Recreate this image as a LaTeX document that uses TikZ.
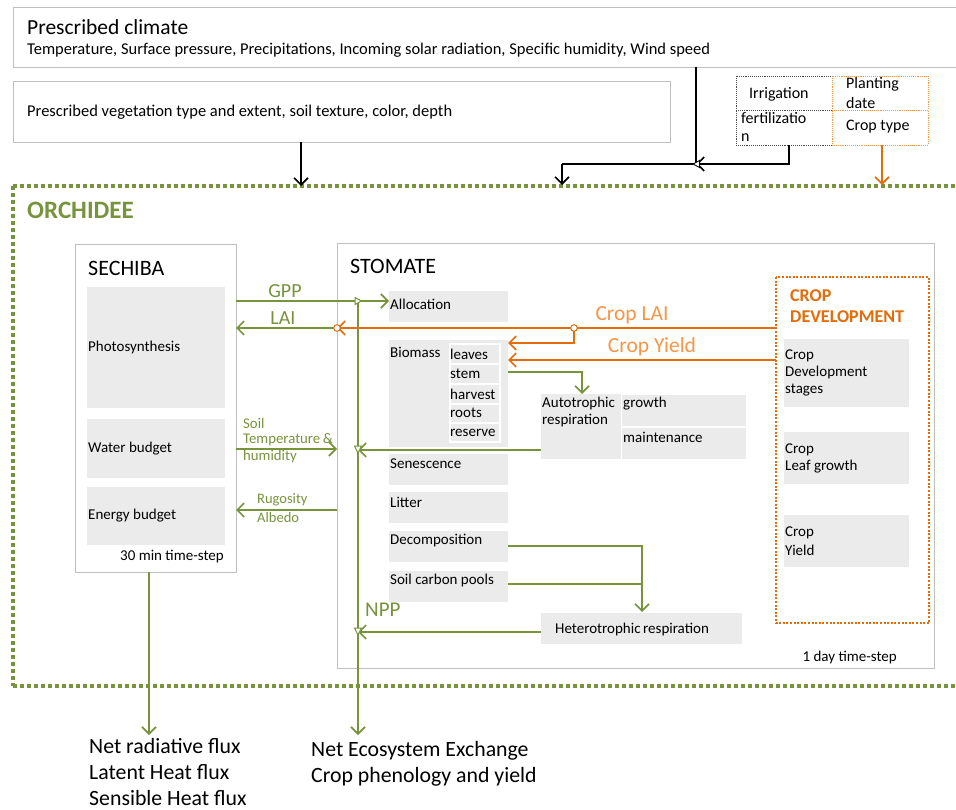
\documentclass[tikz,border=0pt]{standalone}
\usepackage{fontspec}
\setmainfont{Carlito}
\usetikzlibrary{arrows.meta}
\definecolor{ogreen}{HTML}{77933C}
\definecolor{oorange}{HTML}{E46C0A}
\definecolor{lorange}{HTML}{F79646}
\definecolor{boxgray}{HTML}{EBEBEB}
\definecolor{framegray}{HTML}{BFBFBF}
\newcommand{\fs}[1]{\fontsize{#1}{#1}\selectfont}
\begin{document}
\begin{tikzpicture}[x=1pt,y=-1pt,
  gbox/.style={fill=boxgray, draw=none, inner sep=0pt, outer sep=0pt, anchor=north west},
  frm/.style={draw=framegray, line width=0.9pt, fill=white, inner sep=0pt, outer sep=0pt, anchor=north west},
  txt/.style={anchor=west, inner sep=0pt, font=\fs{15}},
  gtxt/.style={txt, text=ogreen},
  tip/.style={-{Straight Barb[length=7pt,width=14pt,line width=1.6pt]}},
  garrow/.style={draw=ogreen, line width=1.8pt, tip},
  oarrow/.style={draw=oorange, line width=1.8pt, tip},
  gline/.style={draw=ogreen, line width=1.8pt},
  karrow/.style={draw=black, line width=1.6pt, tip},
  opentri/.style={draw=ogreen, line width=1pt, fill=white},
]
\useasboundingbox (0,0) rectangle (956,810);
\clip (0,0) rectangle (956,810);

% ---- top input boxes
\node[frm, minimum width=970, minimum height=60] (clim) at (13,7) {};
\node[txt, font=\fs{21.5}] (climt) at (27,27) {Prescribed climate};
\node[txt, font=\fs{16.5}] (climv) at (27,50) {Temperature, Surface pressure, Precipitations, Incoming solar radiation, Specific humidity, Wind speed};

\node[frm, minimum width=657, minimum height=61] (veg) at (13,81) {};
\node[txt, font=\fs{16.5}] (vegt) at (27,112) {Prescribed vegetation type and extent, soil texture, color, depth};

\node[frm, draw=black!70, densely dotted, line width=0.8pt, minimum width=96, minimum height=34] (irr) at (736,76) {};
\node[frm, draw=black!70, densely dotted, line width=0.8pt, minimum width=96, minimum height=35] (fert) at (736,110) {};
\node[frm, draw=lorange, densely dotted, line width=0.8pt, minimum width=96, minimum height=34] (plant) at (832,76) {};
\node[frm, draw=lorange, densely dotted, line width=0.8pt, minimum width=96, minimum height=35] (ctype) at (832,110) {};
\node[txt, font=\fs{16}] (irrt) at (749,94) {Irrigation};
\node[txt, font=\fs{16}] (fertt1) at (741,118) {fertilizatio};
\node[txt, font=\fs{16}] (fertt2) at (741,138) {n};
\node[txt, font=\fs{16}] (plantt1) at (846,84) {Planting};
\node[txt, font=\fs{16}] (plantt2) at (846,103) {date};
\node[txt, font=\fs{16}] (ctypet) at (846,127) {Crop type};

% ---- ORCHIDEE frame
\draw[ogreen, line width=4pt, dash pattern=on 4pt off 3pt] (13,186) -- (1000,186);
\draw[ogreen, line width=4pt, dash pattern=on 4pt off 3pt] (13,686) -- (1000,686);
\draw[ogreen, line width=4pt, dash pattern=on 4pt off 3pt] (13,186) -- (13,686);
\node[txt, text=ogreen, font=\fs{25}\bfseries] (orch) at (27,210) {ORCHIDEE};

% ---- input connectors
\coordinate (j1) at (696,164);
\coordinate (j2) at (562,164);
\coordinate (orchin) at (562,185);
\draw[black, line width=1.6pt] (clim.south -| j1) -- (j1) -- (j2);
\draw[karrow] (j2) -- (orchin);
\draw[karrow] (fert.south -| 789,0) |- (j1);
\draw[black, line width=0.9pt, fill=white] (699.5,160.5) -- (693,164) -- (699.5,167.5) -- cycle;
\draw[karrow] (veg.south -| 301,0) -- (301,186);
\draw[oarrow] (ctype.south -| 882,0) -- (882,185);

% ---- SECHIBA
\node[frm, minimum width=161, minimum height=328] (sech) at (75,244) {};
\node[txt, font=\fs{22}] (secht) at (88,268) {SECHIBA};
\node[gbox, minimum width=138, minimum height=121] (photo) at (87,287) {};
\node[gbox, minimum width=138, minimum height=59] (water) at (87,419) {};
\node[gbox, minimum width=138, minimum height=58] (energy) at (87,487) {};
\node[txt] (photot) at (88,348) {Photosynthesis};
\node[txt] (watert) at (88,449) {Water budget};
\node[txt] (energyt) at (88,516) {Energy budget};
\node[txt, anchor=east] (sechstep) at (224,557) {30 min time-step};

% ---- STOMATE
\node[frm, minimum width=597, minimum height=425] (stom) at (337,243) {};
\node[txt, font=\fs{22}] (stomt) at (350,266) {STOMATE};
\node[gbox, minimum width=119, minimum height=31] (alloc) at (389,291) {};
\node[gbox, minimum width=119, minimum height=107] (biom) at (389,340) {};
\node[draw=none, fill=white, inner sep=0pt, outer sep=0pt, anchor=north west, minimum width=52, minimum height=100] (biomin) at (449,343) {};
\node[gbox, minimum width=48, minimum height=18] (leaves) at (451,345) {};
\node[gbox, minimum width=48, minimum height=18] (stem) at (451,365) {};
\node[gbox, minimum width=48, minimum height=18] (harv) at (451,385) {};
\node[gbox, minimum width=48, minimum height=17] (roots) at (451,405) {};
\node[gbox, minimum width=48, minimum height=17] (reserve) at (451,424) {};
\node[gbox, minimum width=119, minimum height=31] (sen) at (389,454) {};
\node[gbox, minimum width=119, minimum height=31] (litter) at (389,492) {};
\node[gbox, minimum width=119, minimum height=31] (decomp) at (389,531) {};
\node[gbox, minimum width=119, minimum height=31] (soil) at (389,571) {};
\node[gbox, minimum width=80, minimum height=65] (auto) at (541,394) {};
\node[gbox, minimum width=124, minimum height=31] (growth) at (622,395) {};
\node[gbox, minimum width=124, minimum height=31] (maint) at (622,428) {};
\node[gbox, minimum width=201, minimum height=31] (hetero) at (541,613) {};

\node[txt] (allocT) at (390,304) {Allocation};
\node[txt] (biomT) at (390,352) {Biomass};
\node[txt] (leavesT) at (450,354) {leaves};
\node[txt] (stemT) at (450,374) {stem};
\node[txt] (harvT) at (450,394) {harvest};
\node[txt] (rootsT) at (450,413) {roots};
\node[txt] (reserveT) at (450,433) {reserve};
\node[txt] (senT) at (390,464) {Senescence};
\node[txt] (litterT) at (390,502) {Litter};
\node[txt] (decompT) at (390,541) {Decomposition};
\node[txt] (soilT) at (390,580) {Soil carbon pools};
\node[txt] (autoT1) at (542,404) {Autotrophic};
\node[txt] (autoT2) at (542,421) {respiration};
\node[txt] (growthT) at (623,404) {growth};
\node[txt] (maintT) at (623,437) {maintenance};
\node[txt] (heteroT) at (555,629) {Heterotrophic\,respiration};
\node[txt, anchor=east] (stomstep) at (897,657) {1 day time-step};

% ---- CROP DEVELOPMENT
\draw[oorange, line width=2.5pt, dash pattern=on 2pt off 1.6pt] (776,277) rectangle (929,623);
\coordinate (cdw) at (776,300);
\node[txt, text=oorange, font=\fs{18}\bfseries] (cdT1) at (790,296) {CROP};
\node[txt, text=oorange, font=\fs{18}\bfseries] (cdT2) at (790,317) {DEVELOPMENT};
\node[gbox, minimum width=125, minimum height=68] (cds) at (784,339) {};
\node[gbox, minimum width=125, minimum height=52] (clg) at (784,432) {};
\node[gbox, minimum width=125, minimum height=52] (cy) at (784,515) {};
\node[txt] (cdsT1) at (785,356) {Crop};
\node[txt] (cdsT2) at (785,373) {Development};
\node[txt] (cdsT3) at (785,390) {stages};
\node[txt] (clgT1) at (785,450) {Crop};
\node[txt] (clgT2) at (785,467) {Leaf growth};
\node[txt] (cyT1) at (785,533) {Crop};
\node[txt] (cyT2) at (785,550) {Yield};

% ---- connectors inside
\coordinate (vtop) at (358,301);
\coordinate (vbot) at (358,735);
\coordinate (laic) at (337,328);
\coordinate (lai2) at (574,328);
% GPP
\draw[garrow] (sech.east |- vtop) -- (alloc.west |- vtop);
\node[gtxt, anchor=center, font=\fs{20}] (gppT) at (285,291) {GPP};
% vertical NPP line
\draw[garrow] (vtop) -- (vbot);
\draw[opentri] (355,297.5) -- (361.5,301) -- (355,304.5) -- cycle;
% LAI
\draw[oarrow] (cdw |- laic) -- (laic);
\draw[garrow] (laic) -- (sech.east |- laic);
\draw[draw=oorange, line width=1pt, fill=white] (laic) circle (3.3);
\node[gtxt, anchor=center, font=\fs{20}] (laiT) at (283,318) {LAI};
\node[txt, anchor=center, text=lorange, font=\fs{21.5}] (cropLaiT) at (632,315) {Crop LAI};
% LAI branch to leaves
\draw[oarrow] (lai2) -- (574,343) -- (biom.east |- 0,343);
\draw[draw=oorange, line width=1pt, fill=white] (lai2) circle (3.3);
% Crop yield
\draw[oarrow] (cdw |- 0,360) -- (biom.east |- 0,360);
\node[txt, anchor=center, text=lorange, font=\fs{21.5}] (cropYT) at (652,347) {Crop Yield};
% stem to autotrophic
\draw[garrow] (biom.east |- 0,372) -| (auto.north -| 582,0);
% autotrophic to NPP
\draw[garrow] (auto.west |- 0,450) -- (vtop |- 0,450);
\draw[opentri] (354.5,446) -- (361.5,446) -- (358,453) -- cycle;
% soil temperature
\draw[garrow] (sech.east |- 0,449) -- (stom.west |- 0,449);
\node[gtxt, font=\fs{14.8}] (stT1) at (243,423) {Soil};
\node[gtxt, font=\fs{14.8}] (stT2) at (243,440) {Temperature\,\&};
\node[gtxt, font=\fs{14.8}] (stT3) at (243,457) {humidity};
% rugosity
\draw[garrow] (stom.west |- 0,510) -- (sech.east |- 0,510);
\node[gtxt, font=\fs{14.5}] (rgT1) at (257,500) {Rugosity};
\node[gtxt, font=\fs{14.5}] (rgT2) at (257,518) {Albedo};
% decomposition & soil pools to heterotrophic
\draw[garrow] (decomp.east |- 0,546) -| (642,612);
\draw[gline] (soil.east |- 0,584) -- (642,584);
% heterotrophic to NPP
\draw[garrow] (hetero.west |- 0,632) -- (vtop |- 0,632);
\draw[opentri] (354.5,628) -- (361.5,628) -- (358,635) -- cycle;
\node[gtxt, font=\fs{21}] (nppT) at (365,610) {NPP};

% ---- outputs
\draw[garrow] (sech.south -| 149,0) -- (149,735);
\node[txt, font=\fs{21.8}] (out1) at (89,746) {Net radiative flux};
\node[txt, font=\fs{21.8}] (out2) at (89,772) {Latent Heat flux};
\node[txt, font=\fs{21.8}] (out3) at (89,798) {Sensible Heat flux};
\node[txt, font=\fs{21.8}] (out4) at (311,751) {Net Ecosystem Exchange};
\node[txt, font=\fs{21.8}] (out5) at (311,777) {Crop phenology and yield};
\end{tikzpicture}
\end{document}
